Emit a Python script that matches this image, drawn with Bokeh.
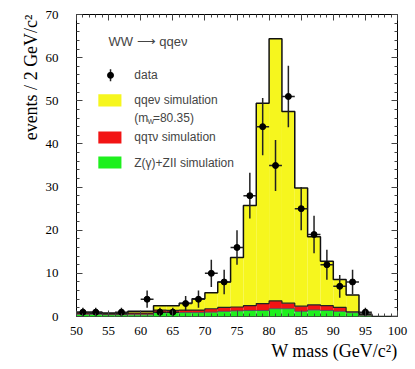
import numpy as np
from bokeh.plotting import figure
from bokeh.models import LinearAxis, SingleIntervalTicker, Range1d, Label, CustomJSTickFormatter, Title, Spacer
from bokeh.layouts import row
from bokeh.embed import file_html
from bokeh.resources import INLINE

# ---------------- data ----------------
bin_width = 2.0
bin_centers = [51, 53, 55, 57, 59, 61, 63, 65, 67, 69, 71, 73, 75, 77, 79,
               81, 83, 85, 87, 89, 91, 93, 95, 97, 99]
zbg_sim = [0.5, 0.5, 0.4, 0.4, 0.4, 0.4, 0.9, 0.9, 0.9, 0.9, 1.0, 1.2, 1.3, 1.4, 1.4,
           1.8, 1.8, 1.2, 1.5, 1.4, 1.2, 0.9, 0.3, 0.0, 0.0]
qqtau_sim = [0.3, 0.2, 0.2, 0.2, 0.4, 0.4, 0.6, 0.5, 0.6, 0.6, 0.8, 0.9, 0.9, 1.1, 1.6,
             1.8, 1.3, 1.2, 1.2, 1.1, 0.9, 0.2, 0.1, 0.0, 0.0]
qqe_sim = [0.2, 0.3, 0.2, 0.2, 0.4, 0.4, 1.0, 1.1, 1.6, 2.6, 3.7, 5.9, 11.5, 23.2, 46.4,
           60.8, 44.4, 27.4, 15.8, 10.3, 6.5, 3.9, 0.2, 0.0, 0.0]
data_mass = [51, 53, 57, 61, 63, 65, 67, 69, 71, 73, 75, 77, 79, 81, 83, 85, 87, 89, 91, 93, 95]
data_counts = [1, 1, 1, 4, 1, 1, 3, 4, 10, 8, 16, 28, 44, 35, 51, 25, 19, 12, 7, 8, 1]

# ---------------- derived ----------------
c = np.array(bin_centers, float)
lo = c - bin_width / 2
hi = c + bin_width / 2
g = np.array(zbg_sim)
r = g + np.array(qqtau_sim)
t = r + np.array(qqe_sim)
dx = np.array(data_mass, float)
dn = np.array(data_counts, float)
err = np.sqrt(dn)

edges = np.append(lo, hi[-1])
def step_xy(vals):
    xs = np.repeat(edges, 2)[1:-1]
    ys = np.repeat(vals, 2)
    return xs, ys

YELLOW = "#f6f61e"
RED = "#f21414"
GREEN = "#1ef01e"
SERIF = "Liberation Serif"
SANS = "Liberation Sans"

p = figure(width=402, height=366, x_range=Range1d(50, 100), y_range=Range1d(0, 70),
           output_backend="svg", toolbar_location=None,
           min_border_left=68, min_border_right=13, min_border_top=14, min_border_bottom=50)
p.grid.visible = False
p.outline_line_color = "black"
p.outline_line_width = 1
p.background_fill_color = "white"
p.border_fill_color = "white"

# stacked histograms
p.quad(left=lo, right=hi, bottom=0, top=g, fill_color=GREEN, line_color="#8ee88e", line_width=0.6)
p.quad(left=lo, right=hi, bottom=g, top=r, fill_color=RED, line_color=None)
p.quad(left=lo, right=hi, bottom=r, top=t, fill_color=YELLOW, line_color=None)
xs, ys = step_xy(g)
p.line(xs, ys, line_color="#555555", line_width=1)
xs, ys = step_xy(r)
p.line(xs, ys, line_color="#222222", line_width=1.2)
xs, ys = step_xy(t)
p.line(xs, ys, line_color="#111111", line_width=1.5)

# data
p.segment(x0=dx, y0=np.clip(dn - err, 0, None), x1=dx, y1=dn + err, line_color="#222222", line_width=1.5)
p.segment(x0=dx - bin_width / 2, y0=dn, x1=dx + bin_width / 2, y1=dn, line_color="#222222", line_width=1.5)
p.scatter(dx, dn, size=6, color="black")

# axes
def style_axis(ax, ticker, labels=True):
    ax.ticker = ticker
    ax.axis_line_color = None
    ax.major_tick_in = 6
    ax.major_tick_out = 0
    ax.minor_tick_in = 3
    ax.minor_tick_out = 0
    ax.major_tick_line_color = "#444444"
    ax.minor_tick_line_color = "#444444"
    if labels:
        ax.major_label_text_font = SERIF
        ax.major_label_text_font_size = "13px"
        ax.major_label_text_color = "black"
    else:
        ax.formatter = CustomJSTickFormatter(code="return ''")
        ax.major_label_standoff = 0

xa = p.xaxis[0]
style_axis(xa, SingleIntervalTicker(interval=5, num_minor_ticks=5))
xa.major_label_standoff = 10

ya = p.yaxis[0]
style_axis(ya, SingleIntervalTicker(interval=10, num_minor_ticks=5))
ya.major_label_standoff = 18

top = LinearAxis()
style_axis(top, SingleIntervalTicker(interval=5, num_minor_ticks=5), labels=False)
p.add_layout(top, "above")
right = LinearAxis()
style_axis(right, SingleIntervalTicker(interval=10, num_minor_ticks=5), labels=False)
p.add_layout(right, "right")

# axis titles (as side titles so they can sit at the axis ends)
p.add_layout(Title(text="W mass (GeV/c²)", align="right", text_font=SERIF,
                   text_font_size="18px", text_font_style="normal", text_color="black",
                   standoff=3), "below")
p.add_layout(Title(text="events / 2 GeV/c²", align="right", text_font=SERIF,
                   text_font_size="18px", text_font_style="normal", text_color="black",
                   standoff=3), "left")

# legend block
def leg_text(x, y, s, size="12px"):
    p.add_layout(Label(x=x, y=y, text=s, text_font=SANS, text_font_size=size,
                       text_align="left", text_baseline="middle"))

leg_text(55.0, 63.7, "WW ⟶ qqeν", "13px")
p.segment(x0=[55.3], y0=[54.5], x1=[55.3], y1=[57.3], line_color="#222222", line_width=1.5)
p.scatter([55.3], [55.9], size=6, color="black")
leg_text(59.0, 55.9, "data")
p.quad(left=[53.4], right=[57.0], bottom=[48.7], top=[51.5], fill_color=YELLOW, line_color=None)
leg_text(59.0, 50.1, "qqeν simulation")
leg_text(59.0, 46.1, "(m")
p.add_layout(Label(x=61.05, y=45.3, text="W", text_font=SANS, text_font_size="7px",
                   text_align="left", text_baseline="middle"))
leg_text(61.9, 46.1, "=80.35)")
p.quad(left=[53.4], right=[57.0], bottom=[40.1], top=[42.9], fill_color=RED, line_color=None)
leg_text(59.0, 41.5, "qqτν simulation")
p.quad(left=[53.4], right=[57.0], bottom=[34.3], top=[37.1], fill_color=GREEN, line_color=None)
leg_text(59.0, 35.6, "Z(γ)+ZII simulation")

layout = row(Spacer(width=8, height=366), p)
open("out.html", "w").write(file_html(layout, INLINE))
